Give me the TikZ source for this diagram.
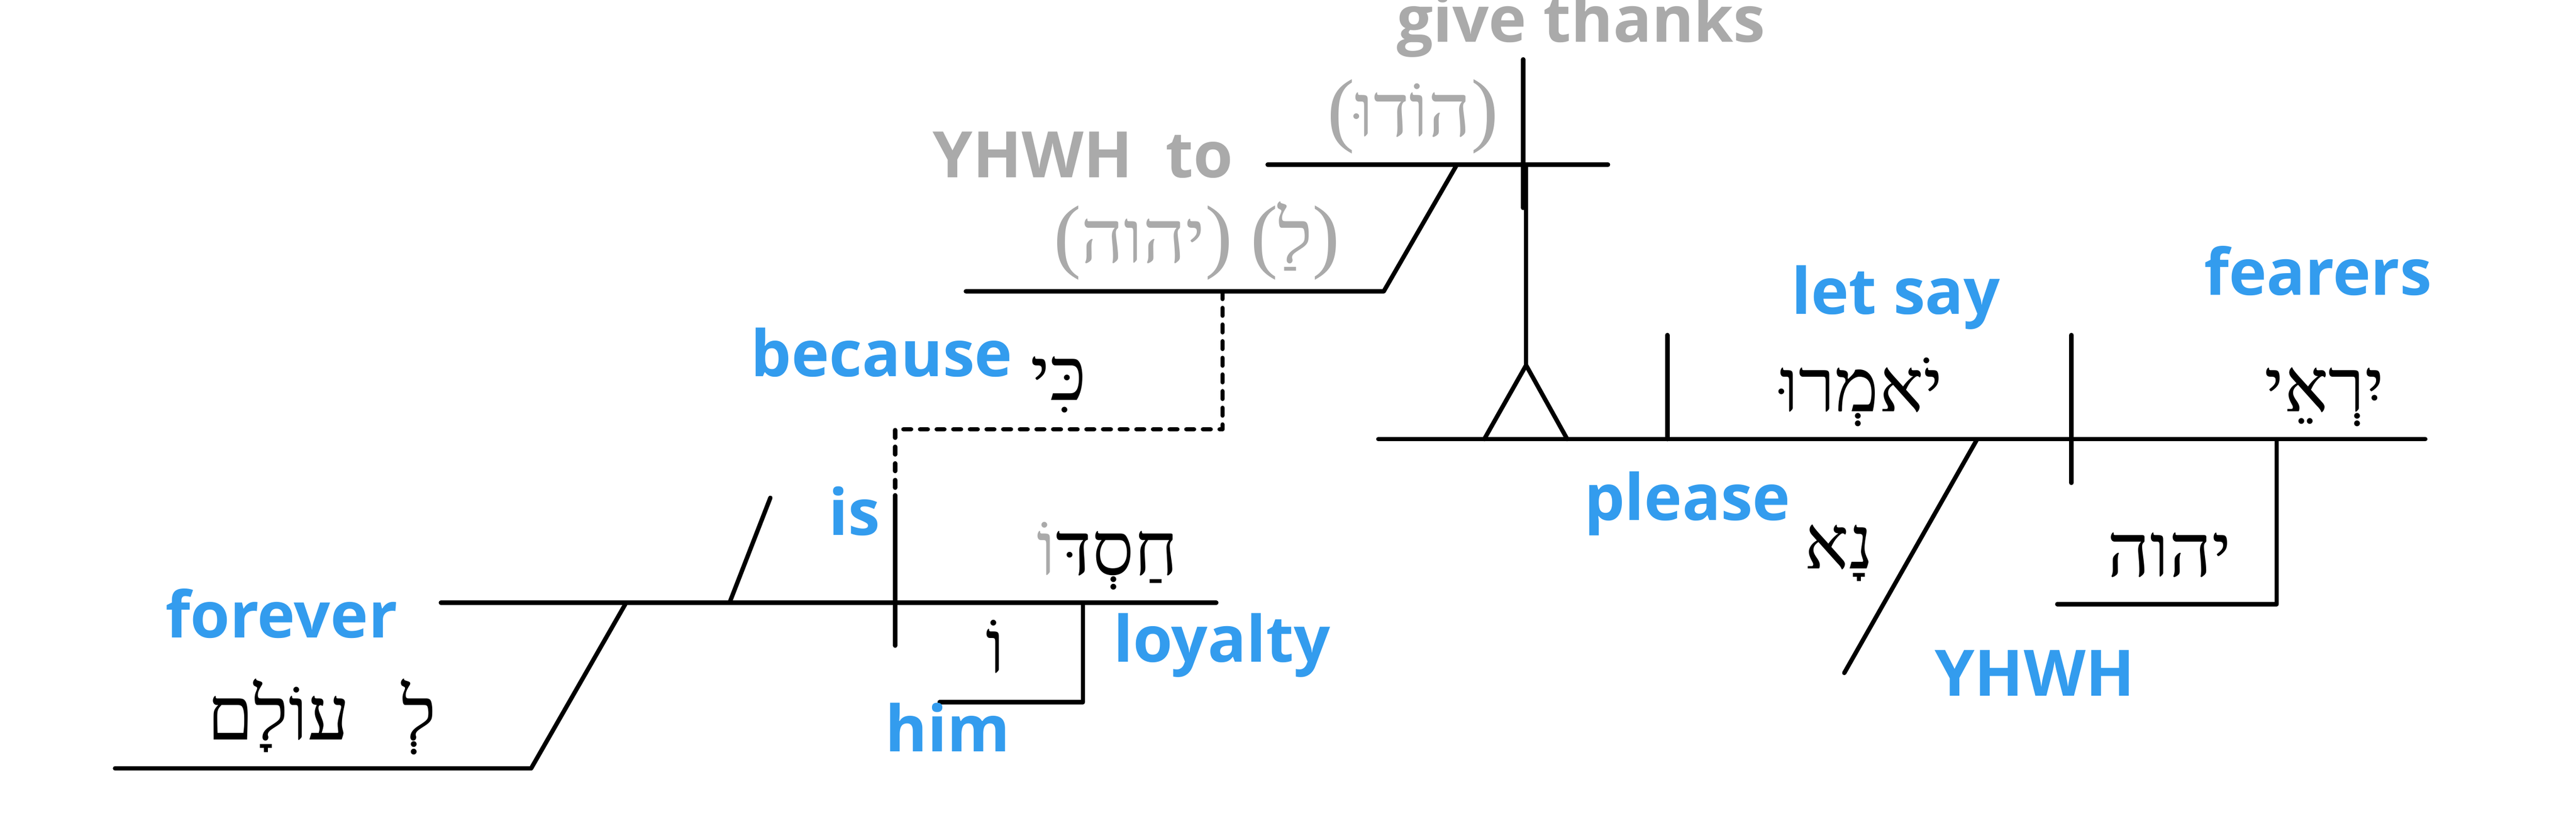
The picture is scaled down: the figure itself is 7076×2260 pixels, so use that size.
\documentclass[tikz,border=0pt]{standalone}
\usepackage{fontspec}
\setmainfont{Open Sans}
\newfontfamily\hebfont[Script=Hebrew]{Liberation Serif}
\newfontfamily\parenfont{Liberation Serif}
\TeXXeTstate=1
\definecolor{glossblue}{HTML}{339CEE}
\definecolor{implied}{HTML}{AAAAAA}
\newcommand\hparL{{\parenfont\fontsize{64}{70}\selectfont(}}
\newcommand\hparR{{\parenfont\fontsize{64}{70}\selectfont)}}
\begin{document}
\begin{tikzpicture}[x=0.01cm,y=-0.01cm]
        \tikzstyle{gloss}=[inner sep=0pt,anchor=base,text=glossblue,font=\fontsize{50}{60}\selectfont\bfseries]
        \tikzstyle{ghost}=[gloss,text=implied]
        \tikzstyle{heb}=[inner sep=0pt,anchor=base,font=\fontsize{58}{64}\selectfont\hebfont]
        \tikzstyle{ghostheb}=[heb,text=implied]
        \tikzstyle{rule}=[draw,line width=3.4pt,line cap=round,line join=round]
        \tikzstyle{link}=[rule,dash pattern=on 6pt off 7pt]
        \useasboundingbox (0,0) rectangle (7076,2260);
        % implied clause: give thanks to YHWH
        \begin{scope}
                \coordinate (t1) at (3482,452);
                \coordinate (t2) at (4417,452);
                \coordinate (tv1) at (4184,163);
                \coordinate (tv2) at (4184,571);
                \coordinate (ts1) at (4002,452);
                \coordinate (ts2) at (3801,800);
                \coordinate (tl) at (2653,800);
                \coordinate (tp) at (4192,452);
                \path[rule] (t1) -- (t2);
                \path[rule] (tv1) -- (tv2);
                \path[rule] (ts1) -- (ts2) -- (tl);
                \node [ghost] (w1) at (4343,115) {give thanks};
                \node [ghostheb] (h1) at (3881,374) {\hparL\beginR הוֹדוּ\endR\hparR};
                \node [ghost] (w2) at (2975,488) {YHWH\ \ to};
                \node [ghostheb] (h2) at (3288,721) {\hparL\beginR יהוה\endR\hparR\hspace{0.5cm}\hparL\beginR לַ\endR\hparR};
        \end{scope}
        % main clause: let the fearers of YHWH say
        \begin{scope}
                \coordinate (m1) at (3786,1206);
                \coordinate (m2) at (6662,1206);
                \coordinate (ta) at (4192,1003);
                \coordinate (tb1) at (4077,1206);
                \coordinate (tb2) at (4305,1206);
                \coordinate (od1) at (4580,920);
                \coordinate (od2) at (4580,1206);
                \coordinate (sd1) at (5690,920);
                \coordinate (sd2) at (5690,1326);
                \coordinate (ad1) at (5431,1206);
                \coordinate (ad2) at (5066,1848);
                \coordinate (md1) at (6254,1206);
                \coordinate (md2) at (6254,1659);
                \coordinate (md3) at (5651,1659);
                \path[rule] (m1) -- (m2);
                \path[rule] (tp) -- (ta);
                \path[rule] (tb1) -- (ta) -- (tb2);
                \path[rule] (od1) -- (od2);
                \path[rule] (sd1) -- (sd2);
                \path[rule] (ad1) -- (ad2);
                \path[rule] (md1) -- (md2) -- (md3);
                \node [gloss] (w3) at (5208,862) {let say};
                \node [heb] (h3) at (5113,1130) {\beginR יֹאמְרוּ\endR};
                \node [gloss] (w4) at (6367,810) {fearers};
                \node [heb] (h4) at (6385,1130) {\beginR יִרְאֵי\endR};
                \node [gloss] (w5) at (4635,1428) {please};
                \node [heb] (h5) at (5051,1562) {\beginR נָא\endR};
                \node [heb] (h6) at (5959,1583) {\beginR יהוה\endR};
                \node [gloss] (w6) at (5589,1911) {YHWH};
        \end{scope}
        % because clause: his loyalty is forever
        \begin{scope}
                \coordinate (k1) at (3358,800);
                \coordinate (k2) at (3358,1179);
                \coordinate (k3) at (2459,1179);
                \coordinate (k4) at (2459,1360);
                \coordinate (l1) at (1211,1655);
                \coordinate (l2) at (3341,1655);
                \coordinate (ld) at (2459,1773);
                \coordinate (lc1) at (2004,1655);
                \coordinate (lc2) at (2116,1367);
                \coordinate (lm1) at (2975,1655);
                \coordinate (lm2) at (2975,1928);
                \coordinate (lm3) at (2581,1928);
                \coordinate (lp1) at (1720,1655);
                \coordinate (lp2) at (1459,2110);
                \coordinate (lp3) at (316,2110);
                \path[link] (k1) -- (k2) -- (k3) -- (k4);
                \path[rule] (l1) -- (l2);
                \path[rule] (k4) -- (ld);
                \path[rule] (lc1) -- (lc2);
                \path[rule] (lm1) -- (lm2) -- (lm3);
                \path[rule] (lp1) -- (lp2) -- (lp3);
                \node [gloss] (w7) at (2422,1034) {because};
                \node [heb] (h7) at (2908,1099) {\beginR כִּי\endR};
                \node [gloss] (w8) at (2347,1470) {is};
                \node [heb] (h8) at (3042,1578) {{\color{implied}וֹ}\beginR חַסְדּ\endR};
                \node [gloss] (w9) at (3356,1818) {loyalty};
                \node [heb] (h9) at (2734,1848) {\beginR וֹ\endR};
                \node [gloss] (w10) at (2603,2064) {him};
                \node [gloss] (w11) at (773,1751) {forever};
                \node [heb] (h10) at (884,2032) {\beginR לְ\hspace{0.7em}עוֹלָם\endR};
        \end{scope}
\end{tikzpicture}
\end{document}
